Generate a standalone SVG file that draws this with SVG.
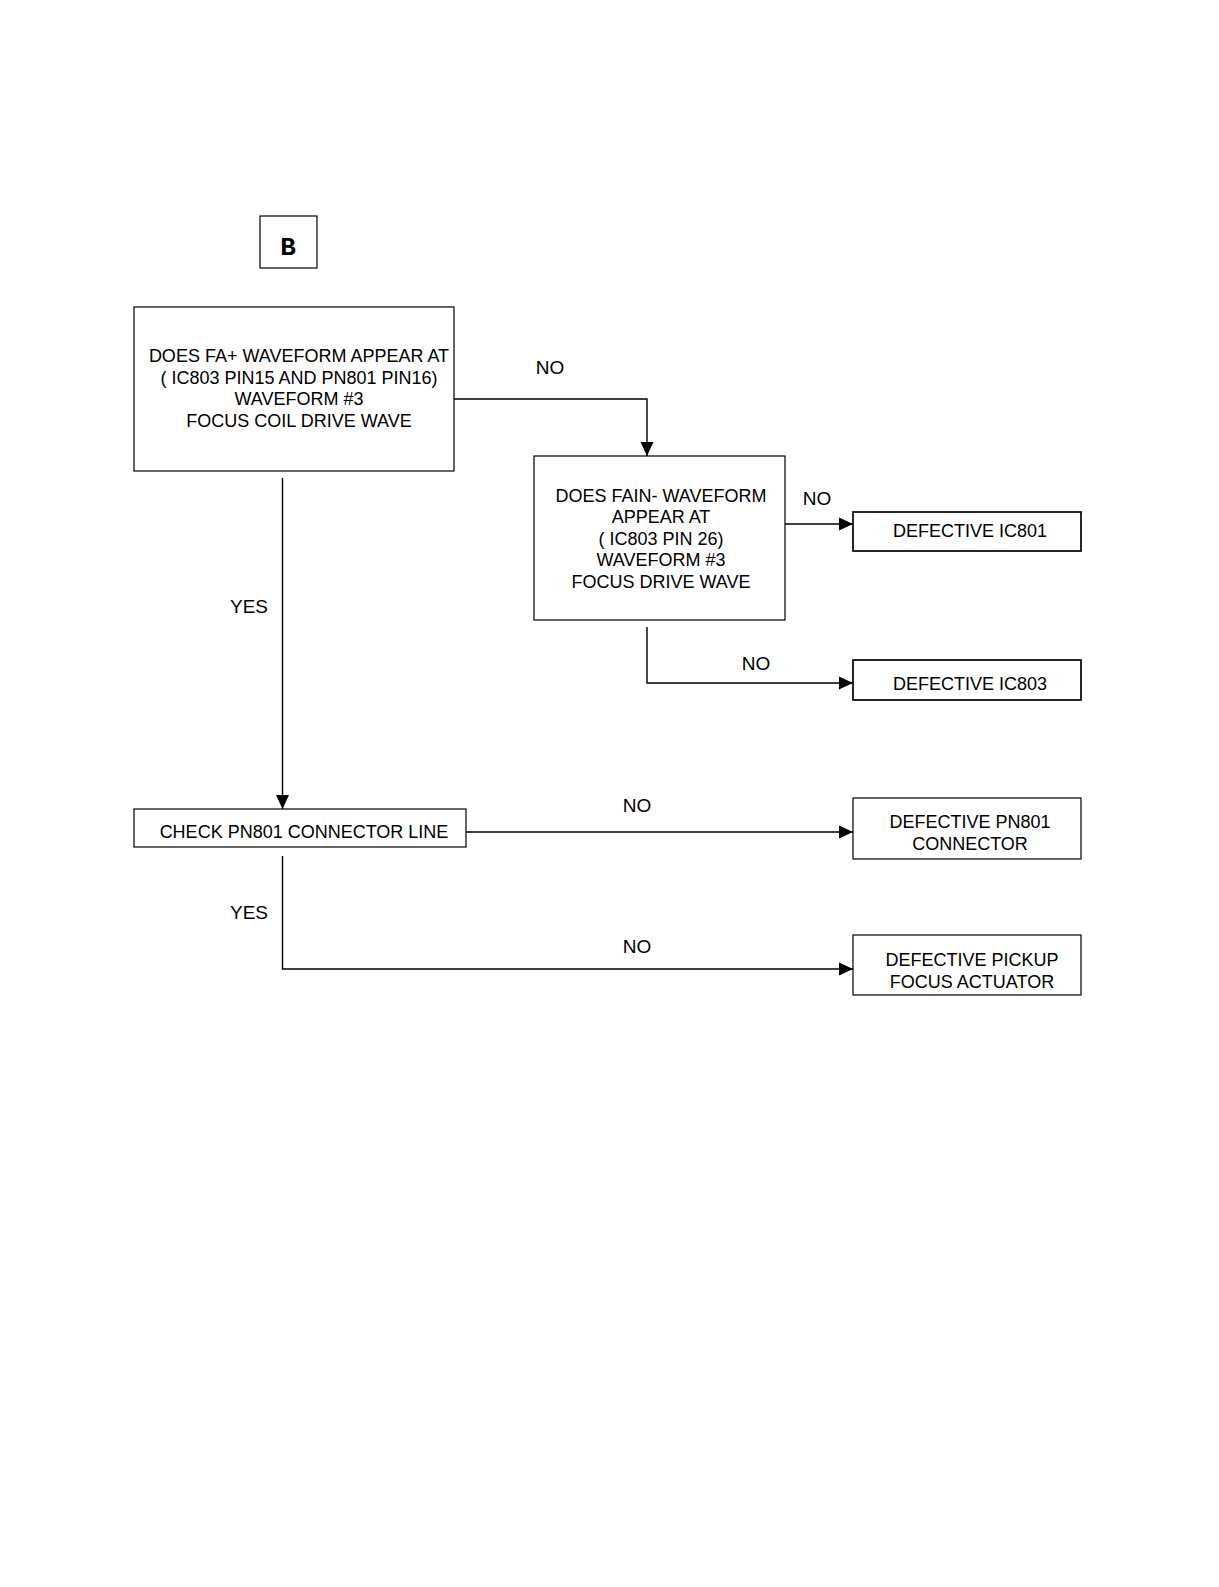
<svg xmlns="http://www.w3.org/2000/svg" width="1219" height="1587" viewBox="0 0 1219 1587">
<style>
.box{fill:#fff;stroke:#000;stroke-width:1.2}
.box2{fill:#fff;stroke:#000;stroke-width:1.7}
.t{font-family:"Liberation Sans",Arial,sans-serif;font-size:18px;fill:#000;text-anchor:middle}
.l{font-family:"Liberation Sans",Arial,sans-serif;font-size:19px;fill:#000;text-anchor:middle}
.c{fill:none;stroke:#000;stroke-width:1.4}
</style>
<defs>
<marker id="ah" markerUnits="userSpaceOnUse" markerWidth="14" markerHeight="14" viewBox="0 0 14 14" refX="14" refY="7" orient="auto">
<path d="M0,0.5 L14,7 L0,13.5 Z" fill="#000"/>
</marker>
</defs>
<rect width="1219" height="1587" fill="#fff"/>
<g id="connectors">
<path class="c" d="M454,399 H647 V456" marker-end="url(#ah)"/>
<path class="c" d="M785,524 H853" marker-end="url(#ah)"/>
<path class="c" d="M647,627 V683 H853" marker-end="url(#ah)"/>
<path class="c" d="M282.5,478 V809" marker-end="url(#ah)"/>
<path class="c" d="M466,832 H853" marker-end="url(#ah)"/>
<path class="c" d="M282.5,856 V969 H853" marker-end="url(#ah)"/>
<text class="l" x="550" y="374">NO</text>
<text class="l" x="817" y="505">NO</text>
<text class="l" x="756" y="670">NO</text>
<text class="l" x="249" y="613">YES</text>
<text class="l" x="637" y="812">NO</text>
<text class="l" x="249" y="919">YES</text>
<text class="l" x="637" y="953">NO</text>
</g>
<g id="nodeB">
<rect class="box" x="260" y="216" width="57" height="52"/>
<text x="288" y="255" font-family="'Liberation Mono','Courier New',monospace" font-weight="bold" font-size="26" text-anchor="middle">B</text>
</g>
<g id="node1">
<rect class="box" x="134" y="307" width="320" height="164"/>
<text class="t" x="299" y="362">DOES FA+ WAVEFORM APPEAR AT</text>
<text class="t" x="299" y="384">( IC803 PIN15 AND PN801 PIN16)</text>
<text class="t" x="299" y="405">WAVEFORM #3</text>
<text class="t" x="299" y="427">FOCUS COIL DRIVE WAVE</text>
</g>
<g id="node2">
<rect class="box" x="534" y="456" width="251" height="164"/>
<text class="t" x="661" y="502">DOES FAIN- WAVEFORM</text>
<text class="t" x="661" y="523">APPEAR AT</text>
<text class="t" x="661" y="545">( IC803 PIN 26)</text>
<text class="t" x="661" y="566">WAVEFORM #3</text>
<text class="t" x="661" y="588">FOCUS DRIVE WAVE</text>
</g>
<g id="nodeIC801">
<rect class="box2" x="853" y="512" width="228" height="39"/>
<text class="t" x="970" y="537">DEFECTIVE IC801</text>
</g>
<g id="nodeIC803">
<rect class="box2" x="853" y="660" width="228" height="40"/>
<text class="t" x="970" y="690">DEFECTIVE IC803</text>
</g>
<g id="nodeCheck">
<rect class="box" x="134" y="809" width="332" height="38"/>
<text class="t" x="304" y="838">CHECK PN801 CONNECTOR LINE</text>
</g>
<g id="nodePN801">
<rect class="box" x="853" y="798" width="228" height="61"/>
<text class="t" x="970" y="828">DEFECTIVE PN801</text>
<text class="t" x="970" y="850">CONNECTOR</text>
</g>
<g id="nodePickup">
<rect class="box" x="853" y="935" width="228" height="60"/>
<text class="t" x="972" y="966">DEFECTIVE PICKUP</text>
<text class="t" x="972" y="988">FOCUS ACTUATOR</text>
</g>
</svg>
